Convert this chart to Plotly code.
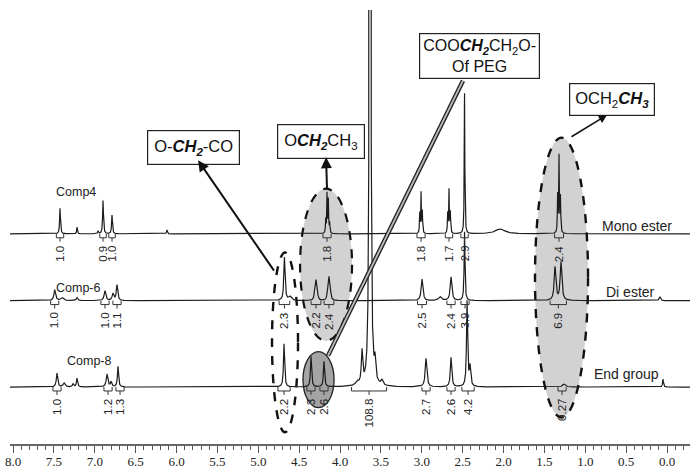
import numpy as np
import plotly.graph_objects as go

# ---------------- data (ppm, intensities) ----------------
spectrum_names = ["Mono ester", "Di ester", "End group"]
compound_names = ["Comp4", "Comp-6", "Comp-8"]
baseline_offsets = [214, 146, 58]

mono_ppm = [7.425, 7.217, 6.960, 6.899, 6.789, 6.116, 4.175, 4.159, 4.143, 4.127,
            3.025, 3.009, 2.993, 2.683, 2.667, 2.651, 2.477, 2.043, 1.338, 1.321, 1.304]
mono_height = [26, 7, 3, 34, 19, 4, 14, 40, 34, 10,
               20, 41, 22, 20, 44, 21, 143, 5, 38, 78, 36]
mono_width = [0.006, 0.005, 0.005, 0.006, 0.006, 0.006, 0.004, 0.004, 0.004, 0.004,
              0.004, 0.004, 0.004, 0.004, 0.004, 0.004, 0.004, 0.07, 0.004, 0.004, 0.004]

di_ppm = [7.490, 7.401, 7.217, 6.875, 6.777, 6.728, 4.680, 4.612, 4.310, 4.294, 4.278,
          4.151, 4.135, 4.119, 2.997, 2.777, 2.642, 2.477, 1.370, 1.297, 0.086]
di_height = [11, 3, 3, 10, 7, 16, 44, 4, 8, 18, 8,
             9, 21, 9, 22, 4, 24, 70, 34, 39, 4]
di_width = [0.012, 0.02, 0.01, 0.012, 0.012, 0.01, 0.009, 0.02, 0.008, 0.008, 0.008,
            0.008, 0.008, 0.008, 0.012, 0.02, 0.012, 0.006, 0.012, 0.012, 0.01]

end_ppm = [7.462, 7.376, 7.266, 7.217, 6.850, 6.801, 6.716, 4.685, 4.355, 4.196,
           3.792, 3.731, 3.633, 3.572, 3.486, 2.948, 2.642, 2.446, 2.410, 1.260, 0.049]
end_height = [14, 4, 3, 9, 13, 5, 21, 44, 31, 26,
              4, 33, 25500, 20, 5, 29, 30, 87, 20, 3, 8]
end_width = [0.01, 0.015, 0.01, 0.008, 0.012, 0.01, 0.008, 0.008, 0.008, 0.008,
             0.02, 0.01, 0.0015, 0.01, 0.015, 0.012, 0.01, 0.008, 0.01, 0.02, 0.006]

# integrals: centre (ppm), span (ppm), value
mono_int_ppm = [7.425, 6.899, 6.789, 4.159, 3.009, 2.667, 2.477, 1.321]
mono_int_span = [0.09, 0.08, 0.08, 0.10, 0.10, 0.09, 0.09, 0.11]
mono_int_label = ["1.0", "0.9", "1.0", "1.8", "1.8", "1.7", "2.9", "2.4"]

di_int_ppm = [7.490, 6.875, 6.728, 4.680, 4.294, 4.135, 2.997, 2.642, 2.471, 1.330]
di_int_span = [0.10, 0.10, 0.10, 0.13, 0.12, 0.12, 0.11, 0.10, 0.10, 0.20]
di_int_label = ["1.0", "1.0", "1.1", "2.3", "2.2", "2.4", "2.5", "2.4", "3.9", "6.9"]

end_int_ppm = [7.462, 6.838, 6.691, 4.685, 4.355, 4.196, 3.645, 2.948, 2.642, 2.434, 1.284]
end_int_span = [0.10, 0.10, 0.10, 0.15, 0.10, 0.10, 0.43, 0.10, 0.10, 0.15, 0.10]
end_int_label = ["1.0", "1.2", "1.3", "2.2", "2.3", "2.6", "108.8", "2.7", "2.6", "4.2", "0.27"]

tick_values = [8.0, 7.5, 7.0, 6.5, 6.0, 5.5, 5.0, 4.5, 4.0, 3.5, 3.0, 2.5, 2.0, 1.5, 1.0, 0.5, 0.0]

# ---------------- figure ----------------
X_RANGE = [8.037, -0.281]
grid = np.linspace(X_RANGE[0], X_RANGE[1], 13000)

peaks = [(mono_ppm, mono_height, mono_width),
         (di_ppm, di_height, di_width),
         (end_ppm, end_height, end_width)]
integrals = [(mono_int_ppm, mono_int_span, mono_int_label),
             (di_int_ppm, di_int_span, di_int_label),
             (end_int_ppm, end_int_span, end_int_label)]

LINE = "#1c1c1c"
fig = go.Figure()
annotations = []

for (pp, hh, ww), off in zip(peaks, baseline_offsets):
    y = np.full_like(grid, float(off))
    for p, h, w in zip(pp, hh, ww):
        y += h * w * w / ((grid - p) ** 2 + w * w)
    fig.add_trace(go.Scatter(x=grid, y=y, mode="lines",
                             line=dict(color=LINE, width=1.2),
                             hoverinfo="skip", showlegend=False))

for (cc, ss, ll), off in zip(integrals, baseline_offsets):
    bx, by = [], []
    for c, s, lab in zip(cc, ss, ll):
        x1, x2 = c + s / 2, c - s / 2
        bx += [x1, x1, x2, x2, None, c, c, None]
        by += [off, off - 4, off - 4, off, None, off - 4, off - 8, None]
        annotations.append(dict(x=c, y=off - 10, xref="x", yref="y", text=lab,
                                textangle=-90, showarrow=False, xanchor="center",
                                yanchor="top",
                                font=dict(family="Liberation Sans, Arial", size=11.5,
                                          color="#222")))
    fig.add_trace(go.Scatter(x=bx, y=by, mode="lines",
                             line=dict(color="#333", width=1),
                             hoverinfo="skip", showlegend=False))

# spectrum names (right) and compound names (left)
name_pos = [(0.37, 222), (0.453, 155), (0.50, 71)]
for name, (nx, ny) in zip(spectrum_names, name_pos):
    annotations.append(dict(x=nx, y=ny, xref="x", yref="y", text=name, showarrow=False,
                            font=dict(family="Liberation Sans, Arial", size=14, color="#222")))
comp_pos = [(7.229, 257), (7.205, 159), (7.070, 85)]
for name, (nx, ny) in zip(compound_names, comp_pos):
    annotations.append(dict(x=nx, y=ny, xref="x", yref="y", text=name, showarrow=False,
                            font=dict(family="Liberation Sans, Arial", size=12.5, color="#222")))

# labelled boxes
boxes = [
    (5.792, 302, "O-<b><i>CH</i></b><sub><b><i>2</i></b></sub>-CO", 16.5, 6),
    (4.232, 308, "O<b><i>CH</i></b><sub><b><i>2</i></b></sub>CH<sub>3</sub>", 16.5, 6),
    (2.294, 395, "COO<b><i>CH</i></b><sub><b><i>2</i></b></sub>CH<sub>2</sub>O-<br>Of PEG", 16, 3),
    (0.679, 351, "OCH<sub>2</sub><b><i>CH</i></b><sub><b><i>3</i></b></sub>", 16.5, 5),
]
for bx_, by_, txt, fs, pad in boxes:
    annotations.append(dict(x=bx_, y=by_, xref="x", yref="y", text=txt, showarrow=False,
                            bgcolor="white", bordercolor="#222", borderwidth=1.2,
                            borderpad=pad,
                            font=dict(family="Liberation Sans, Arial", size=fs, color="#111")))

# arrows
arrows = [((5.737, 289), (4.795, 175), 2.0),
          ((4.171, 292), (4.159, 259), 2.0),
          ((0.734, 335), (1.187, 312), 1.5)]
for (hx, hy), (tx, ty), wdt in arrows:
    annotations.append(dict(x=hx, y=hy, ax=tx, ay=ty, xref="x", yref="y",
                            axref="x", ayref="y", text="", showarrow=True,
                            arrowhead=2, arrowsize=1.1, arrowwidth=wdt, arrowcolor="#111"))

shapes = [
    # shaded ellipses
    dict(type="circle", xref="x", yref="y", x0=4.489, x1=3.853, y0=105, y1=260,
         fillcolor="#d2d2d2", line=dict(color="#111", width=2.2, dash="dash"), layer="below"),
    dict(type="circle", xref="x", yref="y", x0=1.615, x1=0.966, y0=27, y1=312,
         fillcolor="#d2d2d2", line=dict(color="#111", width=2.4, dash="dash"), layer="below"),
    dict(type="circle", xref="x", yref="y", x0=4.832, x1=4.514, y0=12, y1=195,
         fillcolor="rgba(0,0,0,0)", line=dict(color="#111", width=2.4, dash="dash"), layer="below"),
    dict(type="circle", xref="x", yref="y", x0=4.453, x1=4.073, y0=37, y1=94,
         fillcolor="#a4a4a4", line=dict(color="#222", width=1.3), layer="below"),
    # double line towards the PEG box
    dict(type="line", xref="x", yref="y", x0=2.496, y0=370, x1=4.147, y1=90,
         line=dict(color="#222", width=4.5), layer="above"),
    dict(type="line", xref="x", yref="y", x0=2.496, y0=370, x1=4.147, y1=90,
         line=dict(color="#bdbdbd", width=1.8), layer="above"),
]

fig.update_layout(
    width=690, height=469,
    margin=dict(l=10, r=0, t=10, b=17),
    paper_bgcolor="white", plot_bgcolor="white",
    showlegend=False,
    annotations=annotations,
    shapes=shapes,
    xaxis=dict(range=X_RANGE, tickvals=tick_values,
               ticktext=["%.1f" % v for v in tick_values],
               ticks="outside", ticklen=7, tickwidth=1, tickcolor="#555",
               minor=dict(dtick=0.1, tick0=0, ticks="outside", ticklen=4,
                          tickwidth=1, tickcolor="#555"),
               showline=True, linecolor="#666", linewidth=1.5,
               showgrid=False, zeroline=False, ticklabelstandoff=-2,
               tickfont=dict(family="Liberation Serif, Times New Roman", size=13,
                             color="#222")),
    yaxis=dict(range=[0, 442], visible=False, fixedrange=True),
)

fig.write_html("out.html", config={"displayModeBar": False},
               post_script="document.body.style.margin='0';document.body.style.padding='0';")
